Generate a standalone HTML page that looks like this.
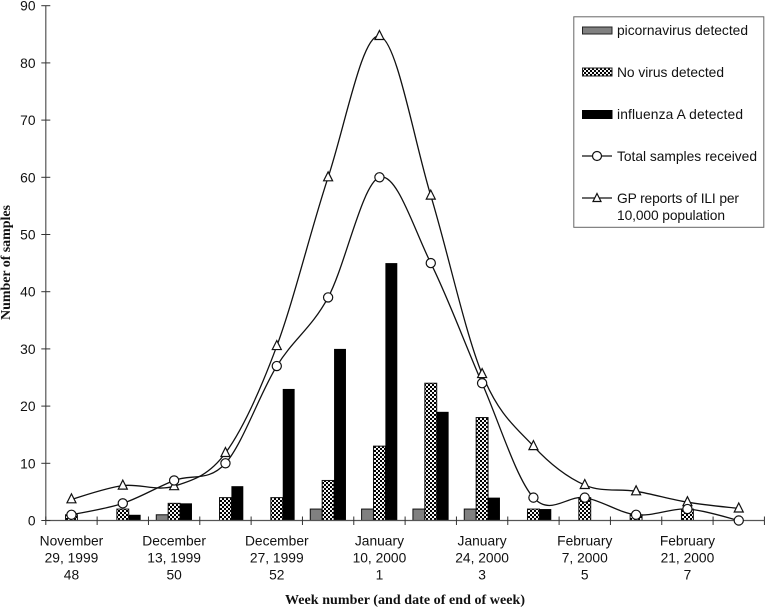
<!DOCTYPE html>
<html>
<head>
<meta charset="utf-8">
<title>Samples by week</title>
<style>
html,body{margin:0;padding:0;background:#fff;width:765px;height:607px;overflow:hidden}
svg{display:block}
text{font-family:"Liberation Sans",sans-serif;fill:#111}
.tick{font-size:13.8px}
.leg{font-size:13.8px}
.title{font-family:"Liberation Serif",serif;font-weight:bold;font-size:14px}
</style>
</head>
<body>
<svg id="chart" width="765" height="607" viewBox="0 0 765 607" xmlns="http://www.w3.org/2000/svg">
<defs>
<pattern id="check" width="4" height="4" patternUnits="userSpaceOnUse">
<rect width="4" height="4" fill="#f4f4f4"/>
<rect width="2" height="2" fill="#000"/>
<rect x="2" y="2" width="2" height="2" fill="#000"/>
</pattern>
</defs>
<g id="bars"></g>
<g id="axes"></g>
<g id="lines"></g>
<text class="title" x="405" y="604" text-anchor="middle" textLength="240">Week number (and date of end of week)</text>
<text class="title" transform="translate(10,262.5) rotate(-90)" text-anchor="middle" textLength="115">Number of samples</text>
<g>
<rect x="573.8" y="16.8" width="190" height="210.5" fill="#fff" stroke="#666" stroke-width="1"/>
<g>
<rect x="582.5" y="27" width="29.5" height="7" fill="#808080" stroke="#222" stroke-width="1"/>
<text class="leg" x="617" y="35" textLength="131">picornavirus detected</text>
</g>
<g>
<rect x="582.5" y="68" width="29.5" height="8" fill="url(#check)" stroke="#222" stroke-width="1"/>
<text class="leg" x="617" y="77" textLength="107">No virus detected</text>
</g>
<g>
<rect x="582" y="110" width="30.5" height="9" fill="#000"/>
<text class="leg" x="617" y="119" textLength="126">influenza A detected</text>
</g>
<g>
<line x1="582" x2="612" y1="156" y2="156" stroke="#111" stroke-width="1.2"/>
<circle cx="597" cy="156" r="4.5" fill="#fff" stroke="#111" stroke-width="1.2"/>
<text class="leg" x="617" y="161" textLength="140">Total samples received</text>
</g>
<g>
<line x1="582" x2="612" y1="198" y2="198" stroke="#111" stroke-width="1.2"/>
<polygon points="597,193.5 601,201.5 593,201.5" fill="#fff" stroke="#111" stroke-width="1.2"/>
<text class="leg" x="617" y="203" textLength="122">GP reports of ILI per</text>
<text class="leg" x="617" y="220" textLength="108">10,000 population</text>
</g>
</g>
</svg>
<script>
const weeks = ["48","49","50","51","52","53","1","2","3","4","5","6","7","8"];
const picornavirus = [0,0,1,0,0,2,2,2,2,0,0,0,0,0];
const noVirus = [1,2,3,4,4,7,13,24,18,2,4,1,2,0];
const influenzaA = [0,1,3,6,23,30,45,19,4,2,0,0,0,0];
const totalSamples = [1,3,7,10,27,39,60,45,24,4,4,1,2,0];
const gpReports = [3.7,6.1,6,11.8,30.5,60,84.7,56.8,25.6,13,6.2,5.1,3.2,2.1];
const yTicks = [0,10,20,30,40,50,60,70,80,90];
const xLabels = [
  ["November","29, 1999","48"],null,
  ["December","13, 1999","50"],null,
  ["December","27, 1999","52"],null,
  ["January","10, 2000","1"],null,
  ["January","24, 2000","3"],null,
  ["February","7, 2000","5"],null,
  ["February","21, 2000","7"],null
];

const NS = "http://www.w3.org/2000/svg";
const X0 = 45.8, Y0 = 520.5, STEP = 51.33, UNIT = 5.72;
function xBand(i){ return X0 + STEP * i; }
function xMid(i){ return X0 + STEP * (i + 0.5); }
function yPos(v){ return Y0 - UNIT * v; }
function mk(tag, attrs, parent){
  const el = document.createElementNS(NS, tag);
  for (const k in attrs) el.setAttribute(k, attrs[k]);
  parent.appendChild(el);
  return el;
}
const barsG = document.getElementById("bars");
const axesG = document.getElementById("axes");
const linesG = document.getElementById("lines");
const BW = 11.9;

function drawBars(values, offset, fill, name){
  values.forEach(function(v, i){
    if (v <= 0) return;
    const r = mk("rect", {x: xMid(i) + offset * BW - BW / 2, y: yPos(v), width: BW, height: Y0 - yPos(v), fill: fill, stroke: fill === "#000" ? "none" : "#111", "stroke-width": 1}, barsG);
    
    
  });
}
drawBars(picornavirus, -1, "#808080", "picornavirus-bar");
drawBars(noVirus, 0, "url(#check)", "no-virus-bar");
drawBars(influenzaA, 1, "#000", "influenza-bar");

const yAxisLine = mk("line", {x1: X0, x2: X0, y1: yPos(90), y2: Y0, stroke: "#555", "stroke-width": 1.2}, axesG);


const xAxisLine = mk("line", {x1: X0, x2: xBand(weeks.length), y1: Y0, y2: Y0, stroke: "#555", "stroke-width": 1.2}, axesG);



yTicks.forEach(function(t){
  const m = mk("line", {x1: X0 - 4.5, x2: X0 + 4.5, y1: yPos(t), y2: yPos(t), stroke: "#333", "stroke-width": 1}, axesG);
  
  
  const l = mk("text", {x: 35.5, y: yPos(t) + 5, "text-anchor": "end", "class": "tick"}, axesG);
  
  
  l.textContent = t;
});
for (let i = 0; i <= weeks.length; i++) {
  const m = mk("line", {x1: xBand(i), x2: xBand(i), y1: Y0 - 4, y2: Y0 + 4.5, stroke: "#333", "stroke-width": 1}, axesG);
  
  
}
xLabels.forEach(function(lines, i){
  if (!lines) return;
  lines.forEach(function(s, j){
    const l = mk("text", {x: xMid(i), y: 545.5 + j * 17, "text-anchor": "middle", "class": "tick"}, axesG);
    
    
    l.textContent = s;
  });
});

function smoothPath(values){
  const pts = values.map(function(v, i){ return [xMid(i), yPos(v)]; });
  let d = "M" + pts[0][0] + " " + pts[0][1];
  for (let i = 0; i < pts.length - 1; i++) {
    const p0 = pts[Math.max(i - 1, 0)], p1 = pts[i], p2 = pts[i + 1], p3 = pts[Math.min(i + 2, pts.length - 1)];
    const c1x = p1[0] + (p2[0] - p0[0]) / 6, c1y = p1[1] + (p2[1] - p0[1]) / 6;
    const c2x = p2[0] - (p3[0] - p1[0]) / 6, c2y = p2[1] - (p3[1] - p1[1]) / 6;
    d += " C" + c1x + " " + c1y + " " + c2x + " " + c2y + " " + p2[0] + " " + p2[1];
  }
  return d;
}
const gpLine = mk("path", {d: smoothPath(gpReports), fill: "none", stroke: "#111", "stroke-width": 1.3}, linesG);


const totalLine = mk("path", {d: smoothPath(totalSamples), fill: "none", stroke: "#111", "stroke-width": 1.3}, linesG);



gpReports.forEach(function(v, i){
  const x = xMid(i), y = yPos(v);
  const tri = mk("polygon", {points: x + "," + (y - 5.5) + " " + (x + 4.5) + "," + (y + 3.5) + " " + (x - 4.5) + "," + (y + 3.5), fill: "#fff", stroke: "#111", "stroke-width": 1.2}, linesG);
  
  
});
totalSamples.forEach(function(v, i){
  const c = mk("circle", {cx: xMid(i), cy: yPos(v), r: 4.6, fill: "#fff", stroke: "#111", "stroke-width": 1.2}, linesG);
  
  
});
</script>
</body>
</html>
